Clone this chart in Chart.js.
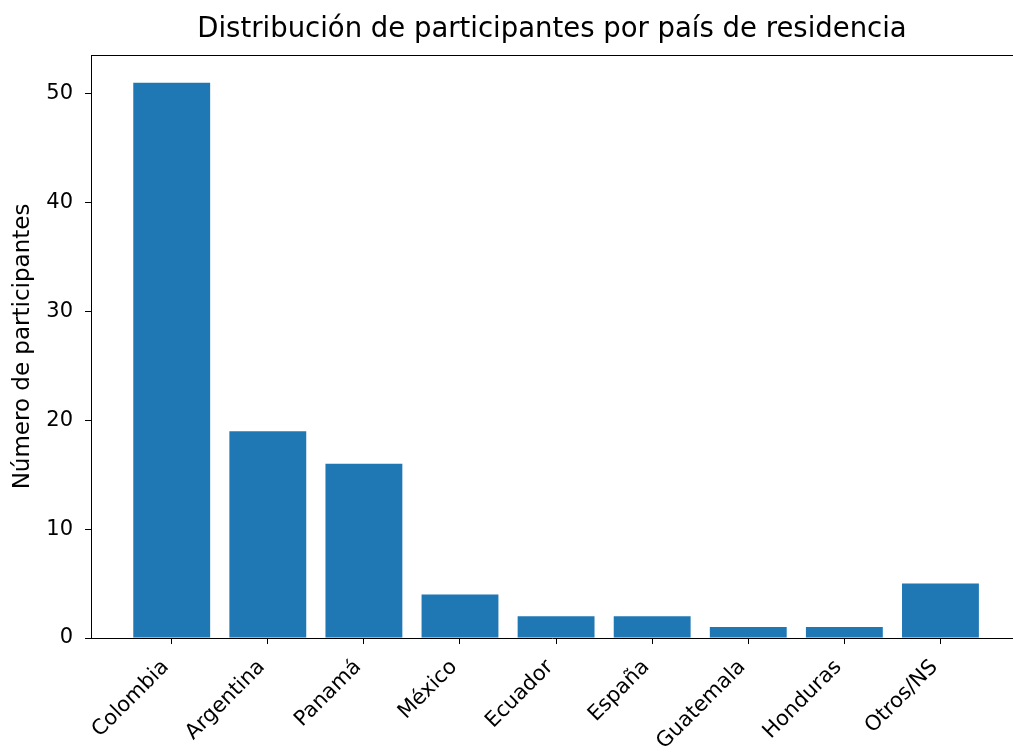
<!DOCTYPE html>
<html>
<head>
<meta charset="utf-8">
<script src="https://cdn.jsdelivr.net/npm/chart.js@4"></script>
<style>
html,body{margin:0;padding:0;background:#fff;overflow:hidden;}
#wrap{width:1013px;height:754px;}
</style>
</head>
<body>
<div id="wrap"><canvas id="c" width="1013" height="754"></canvas></div>
<script>
const categories = ["Colombia","Argentina","Panamá","México","Ecuador","España","Guatemala","Honduras","Otros/NS"];
const participants = [51,19,16,4,2,2,1,1,5];
const yTicks = [0,10,20,30,40,50];

const FONT = "'DejaVu Sans', sans-serif";
const frame = {
  id:'frame',
  afterDraw(chart){
    const {ctx, chartArea:a} = chart;
    ctx.save();
    ctx.strokeStyle = '#000';
    ctx.lineWidth = 1;
    ctx.beginPath();
    ctx.moveTo(Math.round(a.left), Math.round(a.top)+0.5);
    ctx.lineTo(chart.width, Math.round(a.top)+0.5);
    ctx.stroke();
    ctx.restore();
  }
};

new Chart(document.getElementById('c'), {
  type:'bar',
  data:{
    datasets:[{
      data: participants.map((v,i)=>({x:i,y:v})),
      backgroundColor:'#1f77b4',
      borderWidth:0,
      barPercentage:0.8,
      categoryPercentage:1.0
    }]
  },
  options:{
    responsive:false,
    animation:false,
    devicePixelRatio:1,
    layout:{padding:{left:0,right:0,top:0,bottom:0}},
    plugins:{
      legend:{display:false},
      tooltip:{enabled:false},
      title:{
        display:true,
        fullSize:false,
        text:'Distribución de participantes por país de residencia',
        color:'#000',
        font:{family:FONT,size:27.5,weight:'normal',lineHeight:1.2},
        padding:{top:13,bottom:9}
      }
    },
    scales:{
      x:{
        type:'linear',
        min:-0.84, max:8.755,
        offset:false,
        afterBuildTicks(s){ s.ticks = categories.map((c,i)=>({value:i})); },
        afterFit(s){ s.height = 116; },
        ticks:{
          callback:(v)=>categories[v],
          color:'#000',
          font:{family:FONT,size:21},
          minRotation:45,maxRotation:45,
          autoSkip:false,
          padding:11,
          labelOffset:-6
        },
        grid:{display:true,offset:false,drawOnChartArea:false,color:'#000',tickLength:6,tickWidth:1},
        border:{display:true,color:'#000',width:1}
      },
      y:{
        min:0,max:53.55,
        afterBuildTicks(s){ s.ticks = yTicks.map(v=>({value:v})); },
        afterFit(s){ s.width = 91; },
        ticks:{color:'#000',font:{family:FONT,size:21},padding:12},
        grid:{display:true,drawOnChartArea:false,color:'#000',tickLength:6,tickWidth:1},
        border:{display:true,color:'#000',width:1},
        title:{display:true,text:'Número de participantes',color:'#000',font:{family:FONT,size:23},padding:{top:9,bottom:0}}
      }
    }
  },
  plugins:[frame]
});
</script>
</body>
</html>
